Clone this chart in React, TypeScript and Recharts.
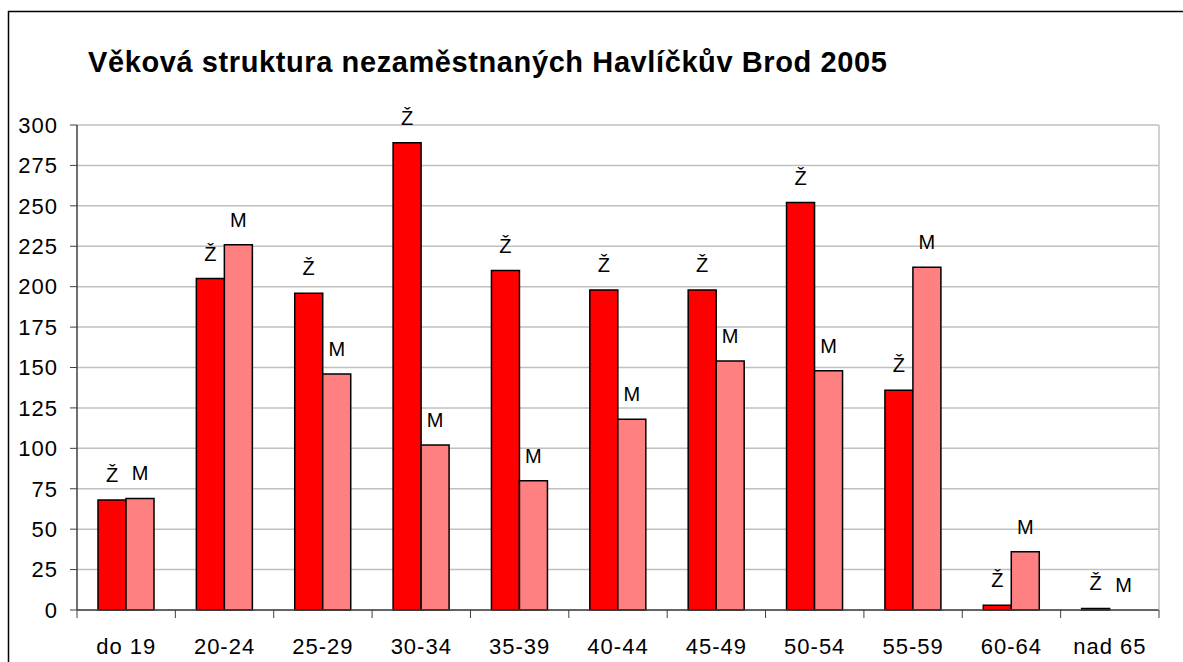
import { Bar, BarChart, CartesianGrid, LabelList, XAxis, YAxis } from 'recharts';

const ageGroups = ['do 19', '20-24', '25-29', '30-34', '35-39', '40-44', '45-49', '50-54', '55-59', '60-64', 'nad 65'];
const women = [68, 205, 196, 289, 210, 198, 198, 252, 136, 3, 1];
const men = [69, 226, 146, 102, 80, 118, 154, 148, 212, 36, 0];
const yTicks = [0, 25, 50, 75, 100, 125, 150, 175, 200, 225, 250, 275, 300];

const chartData = ageGroups.map((group, i) => ({ group, zeny: women[i], muzi: men[i] }));

const W = 1183;
const H = 662;
const M = { top: 125, right: 23, left: 0, bottom: 0 };
const Y_WIDTH = 77;
const BAND = (W - M.right - 1 - Y_WIDTH) / ageGroups.length;
const TICK_GAP = 28;
const LABEL_GAP = 18;
const FONT = '"Liberation Sans", Arial, sans-serif';

function GroupTick(props: any) {
  const { x, y, payload, index } = props;
  const half = BAND / 2;
  const axisY = y - TICK_GAP;
  const last = index === ageGroups.length - 1;
  return (
    <g>
      <line x1={x - half} x2={x - half} y1={axisY} y2={axisY + 8} stroke="#404040" />
      {last && <line x1={x + half} x2={x + half} y1={axisY} y2={axisY + 8} stroke="#404040" />}
      <text x={x} y={y} dy="0.71em" textAnchor="middle" fontSize={22} letterSpacing={1} fontFamily={FONT} fill="#000">
        {payload.value}
      </text>
    </g>
  );
}

const letter = (cx: number, y: number, s: string) => (
  <text x={cx} y={y} textAnchor="middle" fontSize={20} fontFamily={FONT} fill="#000">
    {s}
  </text>
);

// series letter drawn above each bar
const seriesLabel = (s: string) => (p: any) => letter(p.x + p.width / 2, p.y - LABEL_GAP, s);

// recharts drops zero-height bars, so the "M" of an empty men's bar hangs off the women's bar
const emptyMenLabel = (p: any) =>
  p.value === 0 ? letter(p.x + p.width * 1.5, p.y + p.height - LABEL_GAP, 'M') : null;

export default function App() {
  return (
    <>
      <style>{'html, body { overflow: hidden; margin: 0; }'}</style>
      <div style={{ position: 'fixed', left: 0, top: 0, width: W, height: H, overflow: 'hidden', background: '#fff' }}>
        <svg width={W} height={H} style={{ position: 'absolute', left: 0, top: 0 }}>
          <line x1={8} x2={W} y1={11.5} y2={11.5} stroke="#000" strokeWidth={1.5} />
          <line x1={8.5} x2={8.5} y1={11} y2={H} stroke="#000" strokeWidth={1.5} />
        </svg>
        <div
          style={{
            position: 'absolute',
            left: 88,
            top: 46,
            fontFamily: FONT,
            fontWeight: 'bold',
            fontSize: 29,
            letterSpacing: 0.6,
            color: '#000',
            whiteSpace: 'nowrap',
          }}
        >
          Věková struktura nezaměstnaných Havlíčkův Brod 2005
        </div>
        <div style={{ position: 'absolute', left: 0, top: 0 }}>
          <BarChart width={W} height={H} data={chartData} margin={M} barGap={0} barSize={28}>
            <CartesianGrid stroke="#c0c0c0" strokeWidth={1.5} vertical={false} />
            <XAxis
              dataKey="group"
              height={52}
              tickSize={0}
              tickMargin={TICK_GAP}
              tickLine={false}
              axisLine={{ stroke: '#404040', strokeWidth: 1.5 }}
              tick={<GroupTick />}
              interval={0}
            />
            <YAxis
              width={Y_WIDTH}
              domain={[0, 300]}
              ticks={yTicks}
              interval={0}
              tickSize={7}
              tickMargin={12}
              axisLine={{ stroke: '#404040', strokeWidth: 1.5 }}
              tickLine={{ stroke: '#404040' }}
              tick={{ fontSize: 22, letterSpacing: 1, fill: '#000', fontFamily: FONT }}
            />
            <YAxis
              yAxisId="frame"
              orientation="right"
              width={1}
              domain={[0, 300]}
              tick={false}
              tickLine={false}
              axisLine={{ stroke: '#c0c0c0', strokeWidth: 1.5 }}
            />
            <Bar dataKey="zeny" fill="#ff0000" stroke="#000" strokeWidth={1.5} isAnimationActive={false}>
              <LabelList dataKey="zeny" content={seriesLabel('Ž')} />
              <LabelList dataKey="muzi" content={emptyMenLabel} />
            </Bar>
            <Bar dataKey="muzi" fill="#ff8080" stroke="#000" strokeWidth={1.5} isAnimationActive={false}>
              <LabelList dataKey="muzi" content={seriesLabel('M')} />
            </Bar>
          </BarChart>
        </div>
      </div>
    </>
  );
}
